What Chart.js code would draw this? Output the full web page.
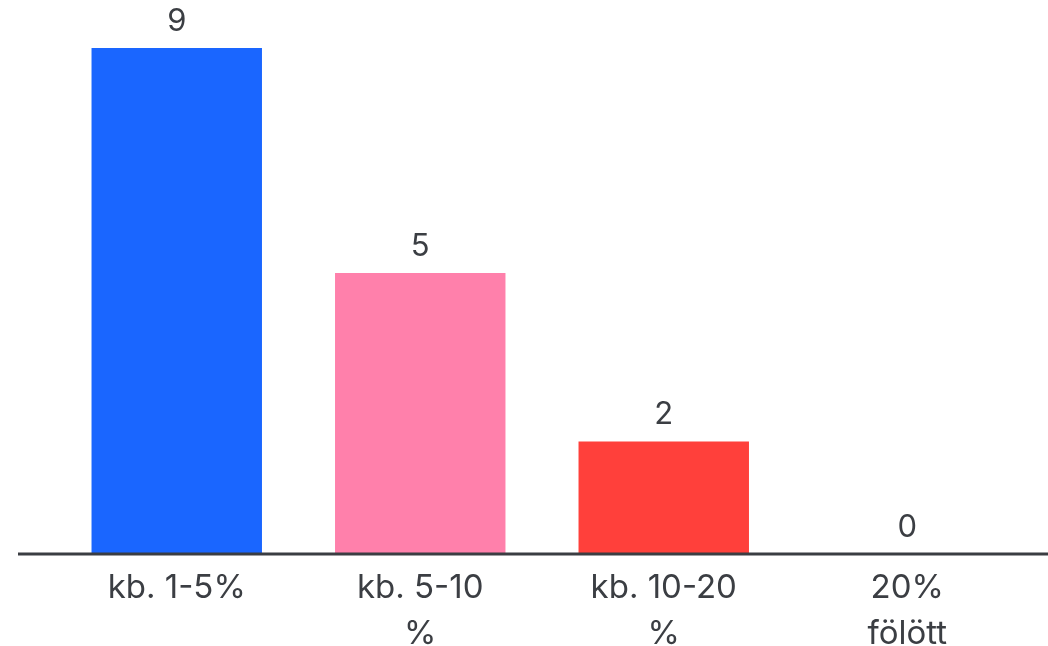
<!DOCTYPE html>
<html>
<head>
<meta charset="utf-8">
<script src="https://cdn.jsdelivr.net/npm/chart.js@4"></script>
<style>
  html, body { margin: 0; padding: 0; background: #fff; overflow: hidden; }
  #wrap { width: 1048px; height: 646px; position: relative; }
</style>
</head>
<body>
<div id="wrap"><canvas id="barChart"></canvas></div>
<script>
const categories = [['kb. 1-5%'], ['kb. 5-10', '%'], ['kb. 10-20', '%'], ['20%', 'fölött']];
const counts = [9, 5, 2, 0];
const barColors = ['#1a66ff', '#ff80ab', '#ff403b'];
const textColor = '#3b3e43';

// értékek a hasábok fölé + alapvonal
const valueLabels = {
    id: 'valueLabels',
    afterDatasetsDraw(chart) {
        const ctx = chart.ctx;
        const area = chart.chartArea;
        ctx.save();
        ctx.strokeStyle = '#3a3d42';
        ctx.lineWidth = 3;
        ctx.beginPath();
        ctx.moveTo(18, area.bottom);
        ctx.lineTo(chart.width, area.bottom);
        ctx.stroke();

        ctx.fillStyle = textColor;
        ctx.font = '31px Inter';
        ctx.textAlign = 'center';
        ctx.textBaseline = 'bottom';
        chart.getDatasetMeta(0).data.forEach((bar, i) => {
            ctx.fillText(String(counts[i]), bar.x, bar.y - 11);
        });
        ctx.restore();
    }
};

new Chart(document.querySelector('#barChart'), {
    type: 'bar',
    data: {
        labels: categories,
        datasets: [{
            data: counts,
            backgroundColor: barColors,
            categoryPercentage: 1,
            barPercentage: 0.7
        }]
    },
    options: {
        responsive: true,
        maintainAspectRatio: false,
        animation: false,
        layout: { padding: { top: 48, left: 55, right: 19, bottom: 0 } },
        plugins: { legend: { display: false }, tooltip: { enabled: false } },
        scales: {
            y: { display: false, min: 0, max: 9 },
            x: {
                afterFit(scale) { scale.height = 92; },
                grid: { display: false, drawTicks: false },
                border: { display: false },
                ticks: {
                    color: textColor,
                    padding: 11,
                    maxRotation: 0,
                    autoSkip: false,
                    font: { family: 'Inter', size: 33, lineHeight: 1.4 }
                }
            }
        }
    },
    plugins: [valueLabels]
});
</script>
</body>
</html>
